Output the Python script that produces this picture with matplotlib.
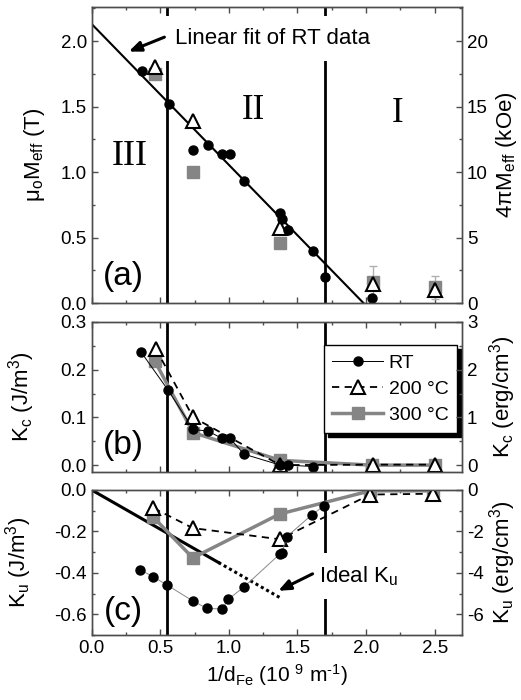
import matplotlib
matplotlib.use("Agg")
import matplotlib.pyplot as plt
from matplotlib.ticker import MultipleLocator
import numpy as np

plt.rcParams["font.family"] = ["Liberation Sans", "DejaVu Sans"]
plt.rcParams["mathtext.fontset"] = "custom"
plt.rcParams["mathtext.rm"] = "Liberation Sans"
plt.rcParams["mathtext.it"] = "Liberation Sans:italic"
plt.rcParams["axes.unicode_minus"] = False

# ── data ──────────────────────────────────────────────────────────────────
# (a) effective magnetisation, T
a_rt_x = [0.365, 0.56, 0.74, 0.85, 0.95, 1.005, 1.11, 1.375, 1.39, 1.43, 1.615, 1.70, 2.04]
a_rt_y = [1.77, 1.52, 1.17, 1.21, 1.14, 1.14, 0.93, 0.685, 0.64, 0.56, 0.40, 0.196, 0.036]
a_200_x = [0.46, 0.74, 1.375, 2.05, 2.5]
a_200_y = [1.80, 1.39, 0.575, 0.145, 0.10]
a_300_x = [0.46, 0.74, 1.375, 2.05, 2.5]
a_300_y = [1.75, 1.00, 0.455, 0.16, 0.12]
a_300_err = [0, 0, 0, 0.125, 0.09]
fit_intercept = 2.13
fit_slope = -1.075

# (b) cubic anisotropy K_c
b_rt_x = [0.36, 0.557, 0.74, 0.85, 0.95, 1.005, 1.11, 1.375, 1.43, 1.615]
b_rt_y = [0.237, 0.157, 0.075, 0.071, 0.056, 0.057, 0.023, 0.0, 0.0, -0.003]
b_200_x = [0.467, 0.74, 1.375, 2.05, 2.5]
b_200_y = [0.244, 0.100, 0.0, 0.001, 0.001]
b_300_x = [0.46, 0.74, 1.375, 2.04, 2.5]
b_300_y = [0.218, 0.068, 0.010, 0.0, 0.0]

# (c) uniaxial anisotropy K_u
c_rt_x = [0.353, 0.45, 0.552, 0.737, 0.84, 0.95, 0.997, 1.107, 1.37, 1.385, 1.423, 1.606, 1.696]
c_rt_y = [-0.385, -0.42, -0.46, -0.536, -0.572, -0.575, -0.527, -0.47, -0.31, -0.305, -0.225, -0.119, -0.075]
c_200_x = [0.45, 0.737, 1.37, 2.03, 2.49]
c_200_y = [-0.087, -0.184, -0.238, -0.022, -0.018]
c_300_x = [0.45, 0.737, 1.37, 2.03, 2.49]
c_300_y = [-0.132, -0.328, -0.116, -0.004, -0.004]
ideal_slope = -0.379
ideal_solid_end = 0.924
ideal_dotted_end = 1.38

region_bounds = [0.55, 1.70]

GRAY = "#858585"
SPINE = "0.3"

fig = plt.figure(figsize=(5.21, 7.0), dpi=100)
axa = fig.add_axes([0.176, 0.567, 0.711, 0.423])
axb = fig.add_axes([0.176, 0.326, 0.711, 0.214])
axc = fig.add_axes([0.176, 0.093, 0.711, 0.207])


def style(ax, ymajor, yminor, right_major, right_minor, ylim, scale, llabel, rlabel,
          lpos, rpos):
    ax.set_xlim(0, 2.7)
    ax.set_ylim(*ylim)
    ax.xaxis.set_major_locator(MultipleLocator(0.5))
    ax.xaxis.set_minor_locator(MultipleLocator(0.25))
    ax.yaxis.set_major_locator(MultipleLocator(ymajor))
    ax.yaxis.set_minor_locator(MultipleLocator(yminor))
    ax.tick_params(which="both", direction="in", top=True, right=False,
                   labelsize=13.5, color=SPINE, width=1.0)
    ax.tick_params(which="major", length=4.5)
    ax.tick_params(which="minor", length=2.5)
    ax.set_ylabel(llabel, fontsize=16)
    ax.yaxis.set_label_coords(lpos, 0.5)
    for s in ax.spines.values():
        s.set_color(SPINE)
        s.set_linewidth(1.0)
    for xv in region_bounds:
        ax.axvline(xv, color="black", lw=2.0, zorder=1)

    tw = ax.twinx()
    tw.set_ylim(ylim[0] * scale, ylim[1] * scale)
    tw.yaxis.set_major_locator(MultipleLocator(right_major))
    tw.yaxis.set_minor_locator(MultipleLocator(right_minor))
    tw.tick_params(which="both", direction="in", labelsize=13.5, color=SPINE, width=1.0)
    tw.tick_params(which="major", length=4.5)
    tw.tick_params(which="minor", length=2.5)
    tw.set_ylabel(rlabel, fontsize=16, va="center")
    tw.yaxis.set_label_coords(rpos, 0.5)
    for s in tw.spines.values():
        s.set_color(SPINE)
        s.set_linewidth(1.0)
    return tw


def arrow(ax, start, end):
    ax.annotate("", xy=end, xytext=start,
                arrowprops=dict(arrowstyle="-|>,head_length=0.6,head_width=0.25",
                                color="black", lw=2.2, mutation_scale=12,
                                shrinkA=0, shrinkB=0),
                zorder=7)


# ── (a) ───────────────────────────────────────────────────────────────────
style(axa, 0.5, 0.25, 5, 2.5, (0, 2.26), 10,
      r"μ$_{\rm o}$M$_{\rm eff}$ (T)", r"4πM$_{\rm eff}$ (kOe)", -0.12, 1.12)
fx = np.array([0, -fit_intercept / fit_slope])
axa.plot(fx, fit_intercept + fit_slope * fx, color="black", lw=1.5, zorder=2)
axa.errorbar(a_300_x, a_300_y, yerr=a_300_err, fmt="s", ms=9, color=GRAY,
             mec=GRAY, ecolor="#b0b0b0", elinewidth=1, capsize=3, zorder=3)
axa.plot(a_200_x, a_200_y, "^", ms=10, mfc="white", mec="black", mew=1.5, zorder=4)
axa.plot(a_rt_x, a_rt_y, "o", ms=6.5, color="black", zorder=5)
axa.text(0.61, 2.02, "Linear fit of RT data", fontsize=16, va="center", ha="left",
         bbox=dict(boxstyle="square,pad=0.55", fc="white", ec="none"), zorder=6)
arrow(axa, (0.53, 2.03), (0.27, 1.92))
for txt, x, y, fs in [("III", 0.275, 1.12, 26), ("II", 1.18, 1.47, 25), ("I", 2.23, 1.45, 25)]:
    axa.text(x, y, txt, fontsize=fs, family="Liberation Serif", ha="center", va="center")
axa.text(0.23, 0.2, "(a)", fontsize=24, ha="center", va="center")
axa.tick_params(labelbottom=False)

# ── (b) ───────────────────────────────────────────────────────────────────
style(axb, 0.1, 0.05, 1, 0.5, (-0.014, 0.3), 10,
      r"K$_{\rm c}$ (J/m$^{\rm 3}$)", r"K$_{\rm c}$ (erg/cm$^{\rm 3}$)", -0.148, 1.11)
axb.plot(b_rt_x, b_rt_y, "-o", color="black", lw=0.7, ms=6.5, zorder=5, label="RT")
axb.plot(b_200_x, b_200_y, "--^", color="black", lw=1.3, dashes=(4, 3), ms=10,
         mfc="white", mec="black", mew=1.5, zorder=4, label="200 °C")
axb.plot(b_300_x, b_300_y, "-s", color=GRAY, lw=2.5, ms=9, zorder=3, label="300 °C")
axb.text(0.23, 0.042, "(b)", fontsize=24, ha="center", va="center")
axb.tick_params(labelbottom=False)
leg = axb.legend(loc="upper right", bbox_to_anchor=(0.987, 0.845), fontsize=14,
                 frameon=True, fancybox=False, handlelength=2.6, handletextpad=0.3,
                 borderpad=0.45, labelspacing=0.45, borderaxespad=0,
                 shadow={"ox": 3, "oy": -3, "color": "black", "alpha": 1})
leg.get_frame().set_edgecolor("black")
leg.get_frame().set_linewidth(1.0)

# ── (c) ───────────────────────────────────────────────────────────────────
style(axc, 0.2, 0.1, 2, 1, (-0.7, 0.0), 10,
      r"K$_{\rm u}$ (J/m$^{\rm 3}$)", r"K$_{\rm u}$ (erg/cm$^{\rm 3}$)", -0.156, 1.11)
xs = np.array([0, ideal_solid_end])
axc.plot(xs, ideal_slope * xs, color="black", lw=2.2, zorder=2)
xd = np.array([ideal_solid_end, ideal_dotted_end])
axc.plot(xd, ideal_slope * xd, color="black", lw=2.2, ls=(0, (1, 1)), zorder=2)
axc.plot(c_300_x, c_300_y, "-s", color=GRAY, lw=2.5, ms=9, zorder=3)
axc.plot(c_200_x, c_200_y, "--^", color="black", lw=1.3, dashes=(4, 3), ms=10,
         mfc="white", mec="black", mew=1.5, zorder=4)
axc.plot(c_rt_x, c_rt_y, "-o", color="#888888", lw=0.7, ms=6.5, mfc="black",
         mec="black", zorder=5)
axc.text(1.66, -0.415, r"Ideal K$_{\rm u}$", fontsize=16, va="center", ha="left",
         bbox=dict(boxstyle="square,pad=0.5", fc="white", ec="none"), zorder=6)
arrow(axc, (1.61, -0.405), (1.36, -0.487))
axc.text(0.23, -0.589, "(c)", fontsize=24, ha="center", va="center")
axc.set_xlabel("1/d$_{\\rm Fe}$ (10 $^{\\rm 9}$ m$^{\\rm \u2010 1}$)", fontsize=15, labelpad=4)

fig.savefig("out.png", dpi=100)
